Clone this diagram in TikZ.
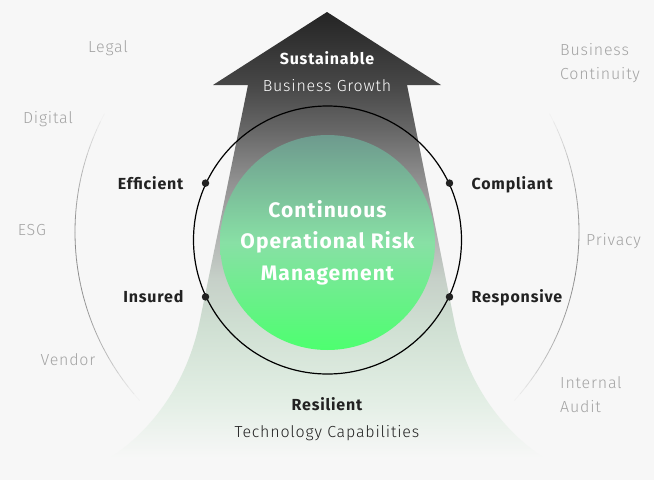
\documentclass[tikz,border=0pt]{standalone}
\usepackage{fontspec}
\setmainfont{Fira Sans}[LetterSpace=5]
\newfontfamily\thinfont{Fira Sans Light}[LetterSpace=5]
\usetikzlibrary{positioning}

\definecolor{bgc}{HTML}{F7F7F7}
\definecolor{ink}{HTML}{222222}
\definecolor{soft}{HTML}{A3A3A3}
\definecolor{arcgray}{HTML}{8C8C8C}
\definecolor{sa}{HTML}{242424}
\definecolor{sb}{HTML}{474747}
\definecolor{sc}{HTML}{676767}
\definecolor{sd}{HTML}{8F8F8F}
\definecolor{se}{HTML}{AFAFAF}
\definecolor{sf}{HTML}{C6D0C8}
\definecolor{sg}{HTML}{D0E0D3}
\definecolor{sh}{HTML}{E2EEE4}
\definecolor{ga}{HTML}{4DFF6F}
\definecolor{gb}{HTML}{88E0A5}
\definecolor{gc}{HTML}{6E9A8E}

\pgfdeclareverticalshading{arrowshade}{100bp}{color(0bp)=(bgc); color(25bp)=(bgc);
  color(31.7bp)=(sh); color(39.5bp)=(sg); color(45.1bp)=(sf); color(50.7bp)=(se);
  color(56.25bp)=(sd); color(61.8bp)=(sc); color(66.85bp)=(sb); color(75bp)=(sa); color(100bp)=(sa)}
\pgfdeclareverticalshading{coreshade}{100bp}{color(0bp)=(ga); color(25bp)=(ga);
  color(50bp)=(gb); color(75bp)=(gc); color(100bp)=(gc)}

\begin{document}
\begin{tikzpicture}[x=1pt,y=-1pt,
  ele/.style={fill=ink,circle,inner sep=0pt,minimum size=7.5pt},
  key/.style={inner sep=0pt,text=ink,text height=13.5pt,text depth=1.5pt,font=\fontsize{16}{18}\selectfont\bfseries},
  plain/.style={inner sep=0pt,text height=13.5pt,text depth=1.5pt,font=\fontsize{16}{18}\selectfont\thinfont},
  side/.style={inner sep=0pt,text=soft,align=left,font=\fontsize{16}{24}\selectfont\thinfont},
  arcline/.style={arcgray,line width=.8pt}]
  \fill[bgc] (0,0) rectangle (654,480);
  \useasboundingbox (0,0) rectangle (654,480);

  % arrow
  \shade[shading=arrowshade] (327,12) -- (441,85) -- (407,85) -- (454,320)
    .. controls (465,375) and (495,425) .. (544,458) -- (110,458)
    .. controls (159,425) and (189,375) .. (200,320) -- (248,85) -- (213,85) -- cycle;

  % outer arcs
  \foreach \i in {0,...,34} {
    \pgfmathsetmacro\op{sin(180*(\i+0.5)/35)}
    \draw[arcline,draw opacity=\op] (327,232) ++(138+2*\i:252) arc[start angle=138+2*\i,end angle=140+2*\i,radius=252];
    \draw[arcline,draw opacity=\op] (327,232) ++(-28+2*\i:252) arc[start angle=-28+2*\i,end angle=-26+2*\i,radius=252];
  }

  \node[circle,draw=black,line width=1.2pt,minimum size=268pt] (ring) at (327.5,240) {};
  \node[circle,shading=coreshade,minimum size=215pt,align=center,text=white,
    font=\fontsize{21}{31.5}\selectfont\bfseries] (core) at (327.5,242.5) {Continuous\\Operational Risk\\Management};

  \node[ele] (eff) at (ring.155) {};
  \node[ele] (com) at (ring.25) {};
  \node[ele] (ins) at (ring.205) {};
  \node[ele] (res) at (ring.335) {};

  \node[key,left=18pt of eff] (efficient) {Efficient};
  \node[key,right=18pt of com] (compliant) {Compliant};
  \node[key,left=18pt of ins] (insured) {Insured};
  \node[key,right=18pt of res] (responsive) {Responsive};

  \node[key,text=white] (sustainable) at (327,58) {Sustainable};
  \node[plain,text=white] (growth) at (327,85) {Business Growth};
  \node[key] (resilient) at (327,404) {Resilient};
  \node[plain,text=ink] (tech) at (327,431) {Technology Capabilities};

  \node[side] (legal) at (108,48) {Legal};
  \node[side] (digital) at (48,119) {Digital};
  \node[side] (esg) at (32,230) {ESG};
  \node[side] (vendor) at (68,360) {Vendor};
  \node[side,anchor=west] (bc) at (560,63) {Business\\Continuity};
  \node[side,anchor=west] (privacy) at (586,241.5) {Privacy};
  \node[side,anchor=west] (audit) at (560,395) {Internal\\Audit};
\end{tikzpicture}
\end{document}
